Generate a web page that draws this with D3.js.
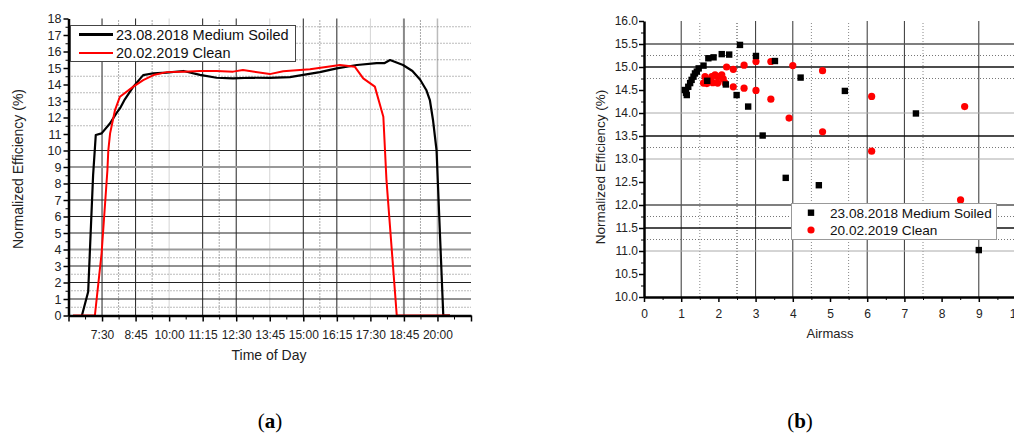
<!DOCTYPE html>
<html>
<head>
<meta charset="utf-8">
<script src="https://cdn.jsdelivr.net/npm/d3@7"></script>
<style>
  body { margin: 0; background: #fff; }
  svg { display: block; font-family: "Liberation Sans", Arial, sans-serif; }
</style>
</head>
<body>
<div id="chart"></div>
<script>
'use strict';

// (a) Time of day series
const timeTickLabels = ["7:30", "8:45", "10:00", "11:15", "12:30", "13:45", "15:00", "16:15", "17:30", "18:45", "20:00"];

const soiledTimes = ["6:45", "6:59", "7:10", "7:16", "7:29", "7:48", "8:03", "8:10", "8:21", "8:40", "9:02", "9:25", "9:54",
  "10:32", "11:09", "11:46", "12:23", "13:01", "13:45", "14:30", "15:00", "15:37", "16:15", "17:00", "17:44", "18:02",
  "18:14", "18:43", "19:04", "19:21", "19:35", "19:43", "19:50", "19:58", "20:13", "20:28"];
const soiledEff = [0, 1.44, 8.5, 10.94, 11.04, 11.65, 12.3, 12.55, 13.1, 13.87, 14.57, 14.68, 14.72,
  14.82, 14.58, 14.41, 14.37, 14.41, 14.4, 14.45, 14.58, 14.75, 14.98, 15.18, 15.3, 15.3,
  15.48, 15.18, 14.82, 14.3, 13.67, 13.06, 11.85, 10.0, 0, 0];

const cleanTimes = ["6:25", "7:14", "7:29", "7:42", "7:44", "7:48", "7:59", "8:10", "8:40", "9:02", "9:25", "9:54",
  "10:32", "11:09", "11:46", "12:23", "12:45", "13:45", "14:15", "15:15", "16:22", "16:55", "17:14", "17:40",
  "17:59", "18:06", "18:29", "20:28"];
const cleanEff = [0, 0, 3.77, 8.8, 10.0, 11.04, 12.45, 13.26, 13.87, 14.27, 14.57, 14.75,
  14.78, 14.82, 14.82, 14.78, 14.88, 14.63, 14.8, 14.92, 15.18, 15.08, 14.37, 13.87,
  12.05, 8.2, 0, 0];

// (b) Airmass scatter
const soiledAirmass = [1.10, 1.15, 1.19, 1.13, 1.24, 1.28, 1.33, 1.37, 1.42, 1.47, 1.6, 1.73, 1.87, 2.09, 2.29,
  2.58, 3.01, 3.52, 2.49, 2.8, 3.19, 4.21, 5.4, 7.31, 3.81, 4.7, 9.0, 2.2, 1.7];
const soiledAirEff = [14.5, 14.39, 14.57, 14.44, 14.65, 14.72, 14.79, 14.86, 14.9, 14.97, 15.03, 15.19, 15.21, 15.28, 15.27,
  15.48, 15.24, 15.13, 14.39, 14.14, 13.51, 14.77, 14.48, 13.99, 12.59, 12.43, 11.02, 14.62, 14.7];

const cleanAirmass = [1.6, 1.64, 1.73, 1.82, 1.91, 1.98, 2.09, 2.13, 1.98, 1.85, 1.69, 2.18, 2.22, 2.4, 2.4,
  2.69, 2.69, 3.01, 3.01, 3.41, 3.41, 3.9, 4.0, 4.8, 4.8, 6.12, 6.12, 8.62, 8.51];
const cleanAirEff = [14.65, 14.79, 14.72, 14.79, 14.83, 14.79, 14.83, 14.74, 14.65, 14.66, 14.64, 14.65, 15.0, 14.95, 14.57,
  15.04, 14.54, 15.12, 14.49, 15.12, 14.3, 13.89, 15.03, 14.92, 13.59, 14.36, 13.17, 14.14, 12.11];

const seriesNames = ["23.08.2018 Medium Soiled", "20.02.2019 Clean"];
const seriesColors = ["#000000", "#ff0000"];

const W = 1014, H = 437;
const svg = d3.select("#chart").append("svg").attr("width", W).attr("height", H);

const parseT = d3.timeParse("%H:%M");
const fmtT = d3.timeFormat("%-H:%M");

function hLine(g, scaleX, scaleY, vals, stroke, width, dash) {
  g.selectAll(null).data(vals).enter().append("line")
    .attr("x1", scaleX.range()[0]).attr("x2", scaleX.range()[1])
    .attr("y1", d => scaleY(d)).attr("y2", d => scaleY(d))
    .attr("stroke", stroke).attr("stroke-width", width)
    .attr("stroke-dasharray", dash || null);
}
function vLine(g, scaleX, scaleY, vals, stroke, width, dash) {
  g.selectAll(null).data(vals).enter().append("line")
    .attr("x1", d => scaleX(d)).attr("x2", d => scaleX(d))
    .attr("y1", scaleY.range()[0]).attr("y2", scaleY.range()[1])
    .attr("stroke", stroke).attr("stroke-width", width)
    .attr("stroke-dasharray", dash || null);
}

// ---------- (a) ----------
const xA = d3.scaleTime().domain([parseT("6:15"), parseT("21:15")]).range([68.5, 471]);
const yA = d3.scaleLinear().domain([0, 18]).range([315.5, 18.5]);

const gridA = svg.append("g");
vLine(gridA, xA, yA, ["10:00", "13:45", "17:30"].map(parseT), "#d4d4d4", 1);
vLine(gridA, xA, yA, ["8:07", "9:22", "11:52", "15:37", "19:22"].map(parseT), "#555", 1, "1,2");
vLine(gridA, xA, yA, ["7:30", "8:45", "11:15", "12:30", "15:00", "16:15"].map(parseT), "#222", 1);
vLine(gridA, xA, yA, [parseT("18:45")], "#888", 2);
vLine(gridA, xA, yA, [parseT("20:00")], "#bbb", 1.5);
hLine(gridA, xA, yA, [0.5, 1.5, 2.5, 3.5, 11.5, 12.5, 13.5, 14.5, 15.5, 16.5, 17.5], "#777", 1, "1,2");
hLine(gridA, xA, yA, [1, 2, 3, 5, 6, 7, 8, 10], "#222", 1);
hLine(gridA, xA, yA, [4, 9], "#999", 2);

const lineA = d3.line().x(d => xA(d.t)).y(d => yA(d.v));
const soiledPts = soiledTimes.map((t, i) => ({ t: parseT(t), v: soiledEff[i] }));
const cleanPts = cleanTimes.map((t, i) => ({ t: parseT(t), v: cleanEff[i] }));

svg.append("path").datum(soiledPts).attr("d", lineA)
  .attr("fill", "none").attr("stroke", seriesColors[0]).attr("stroke-width", 2.2).attr("stroke-linejoin", "round");
svg.append("path").datum(cleanPts).attr("d", lineA)
  .attr("fill", "none").attr("stroke", seriesColors[1]).attr("stroke-width", 2).attr("stroke-linejoin", "round");

// axes (a)
const majorA = d3.range(0, 13).map(i => d3.timeMinute.offset(parseT("6:15"), i * 75));
const minorA = d3.range(0, 12).map(i => d3.timeMinute.offset(parseT("6:15"), i * 75 + 37.5));
const labelSet = new Set(timeTickLabels);

const axBA = svg.append("g").attr("transform", "translate(0,315.5)")
  .call(d3.axisBottom(xA).tickValues(majorA).tickSize(6).tickSizeOuter(0)
    .tickFormat(d => labelSet.has(fmtT(d)) ? fmtT(d) : ""));
axBA.select(".domain").attr("stroke-width", 2.5);
axBA.selectAll(".tick line").attr("stroke-width", 1.5);
axBA.selectAll("text").attr("font-size", 12).attr("dy", "1.2em").attr("fill", "#222")
  .attr("font-family", "Liberation Sans, Arial, sans-serif");
svg.append("g").attr("transform", "translate(0,315.5)")
  .call(d3.axisBottom(xA).tickValues(minorA).tickSize(4).tickFormat(""))
  .call(g => g.select(".domain").remove());

const axLA = svg.append("g").attr("transform", "translate(68.5,0)")
  .call(d3.axisLeft(yA).tickValues(d3.range(0, 19)).tickSize(5).tickSizeOuter(0));
axLA.select(".domain").attr("stroke-width", 2.5);
axLA.selectAll(".tick line").attr("stroke-width", 1.5);
axLA.selectAll("text").attr("font-size", 12.5).attr("fill", "#222").attr("x", -7)
  .attr("font-family", "Liberation Sans, Arial, sans-serif");
svg.append("g").attr("transform", "translate(68.5,0)")
  .call(d3.axisLeft(yA).tickValues(d3.range(0.5, 18, 1)).tickSize(3).tickFormat(""))
  .call(g => g.select(".domain").remove());

svg.append("text").attr("x", 269).attr("y", 360).attr("text-anchor", "middle")
  .attr("font-size", 14).attr("fill", "#222").text("Time of Day");
svg.append("text").attr("transform", "translate(23,169) rotate(-90)").attr("text-anchor", "middle")
  .attr("font-size", 14).attr("fill", "#222").text("Normalized Efficiency (%)");

// legend (a)
const legA = svg.append("g");
legA.append("rect").attr("x", 70.5).attr("y", 25.5).attr("width", 225).attr("height", 36)
  .attr("fill", "#fff").attr("stroke", "#444").attr("stroke-width", 1);
seriesNames.forEach((name, i) => {
  const yy = 34.5 + i * 18.5;
  legA.append("line").attr("x1", 79).attr("x2", 113).attr("y1", yy).attr("y2", yy)
    .attr("stroke", seriesColors[i]).attr("stroke-width", i === 0 ? 3 : 2.2);
  legA.append("text").attr("x", 116).attr("y", yy + 5).attr("font-size", 14.5).attr("fill", "#111").text(name);
});

// ---------- (b) ----------
const xB = d3.scaleLinear().domain([0, 10]).range([644, 1016]);
const yB = d3.scaleLinear().domain([10, 16]).range([297, 21]);

const gridB = svg.append("g");
vLine(gridB, xB, yB, [1.5, 4.5, 5.5, 7.5], "#888", 1, "1,2");
vLine(gridB, xB, yB, [2.5], "#333", 1, "1,2");
vLine(gridB, xB, yB, [1, 3, 4, 6, 7, 9], "#333", 1);
hLine(gridB, xB, yB, [15.25, 14.75, 13.25, 11.75, 11.25], "#777", 1, "1,2");
hLine(gridB, xB, yB, [14.0, 13.0, 11.0], "#aaa", 1);
hLine(gridB, xB, yB, [15.5, 12.0], "#555", 1.3);
hLine(gridB, xB, yB, [15.0, 13.5, 11.5], "#111", 1.3);

svg.append("g").selectAll("circle").data(cleanAirmass).enter().append("circle")
  .attr("cx", d => xB(d)).attr("cy", (d, i) => yB(cleanAirEff[i])).attr("r", 3.6)
  .attr("fill", seriesColors[1]);
svg.append("g").selectAll("rect").data(soiledAirmass).enter().append("rect")
  .attr("x", d => xB(d) - 3.2).attr("y", (d, i) => yB(soiledAirEff[i]) - 3.2)
  .attr("width", 6.4).attr("height", 6.4).attr("fill", seriesColors[0]);

const axBB = svg.append("g").attr("transform", "translate(0,297)")
  .call(d3.axisBottom(xB).tickValues(d3.range(0, 11)).tickSize(5).tickSizeOuter(0));
axBB.select(".domain").attr("stroke-width", 2.5);
axBB.selectAll(".tick line").attr("stroke-width", 1.5);
axBB.selectAll("text").attr("font-size", 12).attr("fill", "#222").attr("dy", "1.1em")
  .attr("font-family", "Liberation Sans, Arial, sans-serif");
svg.append("g").attr("transform", "translate(0,297)")
  .call(d3.axisBottom(xB).tickValues(d3.range(0.5, 10, 1)).tickSize(3).tickFormat(""))
  .call(g => g.select(".domain").remove());

const axLB = svg.append("g").attr("transform", "translate(644,0)")
  .call(d3.axisLeft(yB).tickValues(d3.range(10, 16.01, 0.5)).tickSize(5).tickSizeOuter(0)
    .tickFormat(d3.format(".1f")));
axLB.select(".domain").attr("stroke-width", 2.5);
axLB.selectAll(".tick line").attr("stroke-width", 1.5);
axLB.selectAll("text").attr("font-size", 12).attr("fill", "#222").attr("x", -6)
  .attr("font-family", "Liberation Sans, Arial, sans-serif");
svg.append("g").attr("transform", "translate(644,0)")
  .call(d3.axisLeft(yB).tickValues(d3.range(10.25, 16, 0.5)).tickSize(3).tickFormat(""))
  .call(g => g.select(".domain").remove());

svg.append("text").attr("x", 830).attr("y", 338).attr("text-anchor", "middle")
  .attr("font-size", 13).attr("fill", "#222").text("Airmass");
svg.append("text").attr("transform", "translate(605,167) rotate(-90)").attr("text-anchor", "middle")
  .attr("font-size", 13.5).attr("fill", "#222").text("Normalized Efficiency (%)");

// legend (b)
const legB = svg.append("g");
legB.append("rect").attr("x", 791.5).attr("y", 203.5).attr("width", 205).attr("height", 36)
  .attr("fill", "#fff").attr("stroke", "#999").attr("stroke-width", 1);
legB.append("rect").attr("x", 811 - 3.2).attr("y", 212.7 - 3.2).attr("width", 6.4).attr("height", 6.4)
  .attr("fill", seriesColors[0]);
legB.append("circle").attr("cx", 811).attr("cy", 230).attr("r", 3.6).attr("fill", seriesColors[1]);
seriesNames.forEach((name, i) => {
  legB.append("text").attr("x", 830).attr("y", 217.5 + i * 17.3).attr("font-size", 13.6)
    .attr("fill", "#111").text(name);
});

// sub-figure captions
[["a", 270], ["b", 800]].forEach(([letter, cx]) => {
  const t = svg.append("text").attr("x", cx).attr("y", 428).attr("text-anchor", "middle")
    .attr("font-family", "Liberation Serif, Times New Roman, serif").attr("font-size", 21).attr("fill", "#000");
  t.append("tspan").text("(");
  t.append("tspan").attr("font-weight", "bold").text(letter);
  t.append("tspan").text(")");
});
</script>
</body>
</html>
